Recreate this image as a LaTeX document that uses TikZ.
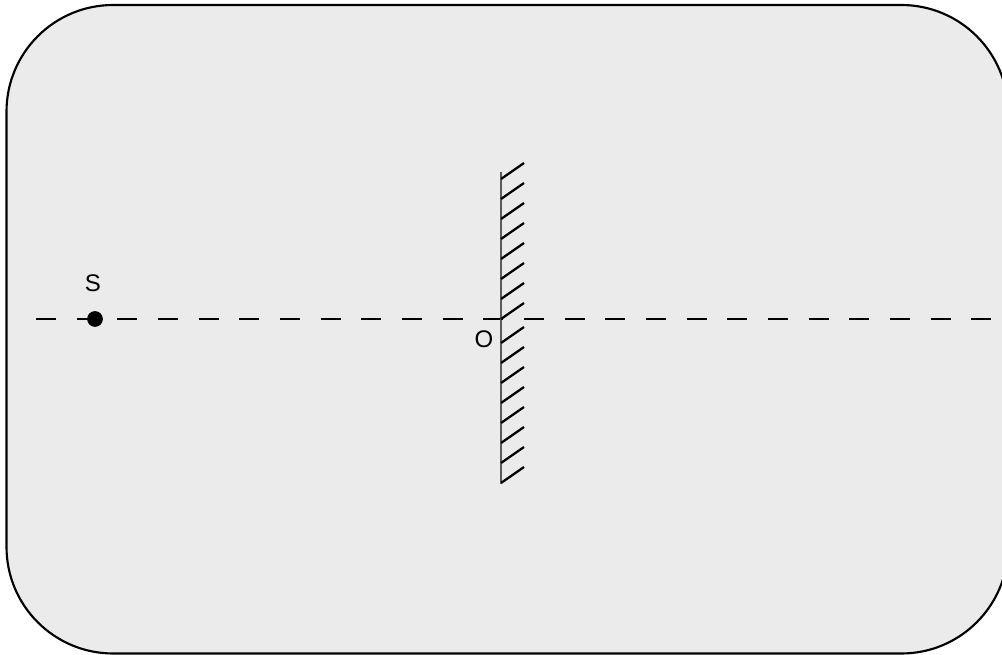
\documentclass[tikz,border=0pt]{standalone}
\usepackage{fontspec}
\setmainfont{Liberation Sans}
\begin{document}
\begin{tikzpicture}[x=0.75pt,y=-0.75pt,
  frame/.style={draw=black,line width=1.6pt,fill={rgb,255:red,235;green,235;blue,235},rounded corners=80pt},
  axis/.style={draw=black,line width=1.6pt,dash pattern=on 15pt off 15.5pt},
  mirrorline/.style={draw={rgb,255:red,90;green,90;blue,90},line width=1pt},
  hatch/.style={draw=black,line width=1.7pt},
  lbl/.style={font=\fontsize{18}{21}\selectfont,inner sep=0pt},
  dot/.style={circle,fill=black,inner sep=0pt,minimum size=11.8pt}]
\useasboundingbox (0,0) rectangle (1002,655);
\path[frame] (6.5,5) rectangle (1008,653.5);
\coordinate (axL) at (36,319);
\coordinate (axR) at (1002,319);
\draw[axis] (axL) -- (axR);
\coordinate (mT) at (501,172);
\coordinate (mB) at (501,484);
\draw[mirrorline] (mT) -- (mB);
\foreach \y in {179,199,...,319} {\draw[hatch] (501,\y) -- ++(23,-16);}
\foreach \y in {343,363,...,483} {\draw[hatch] (501,\y) -- ++(23,-16);}
\node[dot] (S) at (95,319) {};
\node[lbl] (Slbl) at (93,283) {S};
\node[lbl] (O) at (484,339) {O};
\end{tikzpicture}
\end{document}
